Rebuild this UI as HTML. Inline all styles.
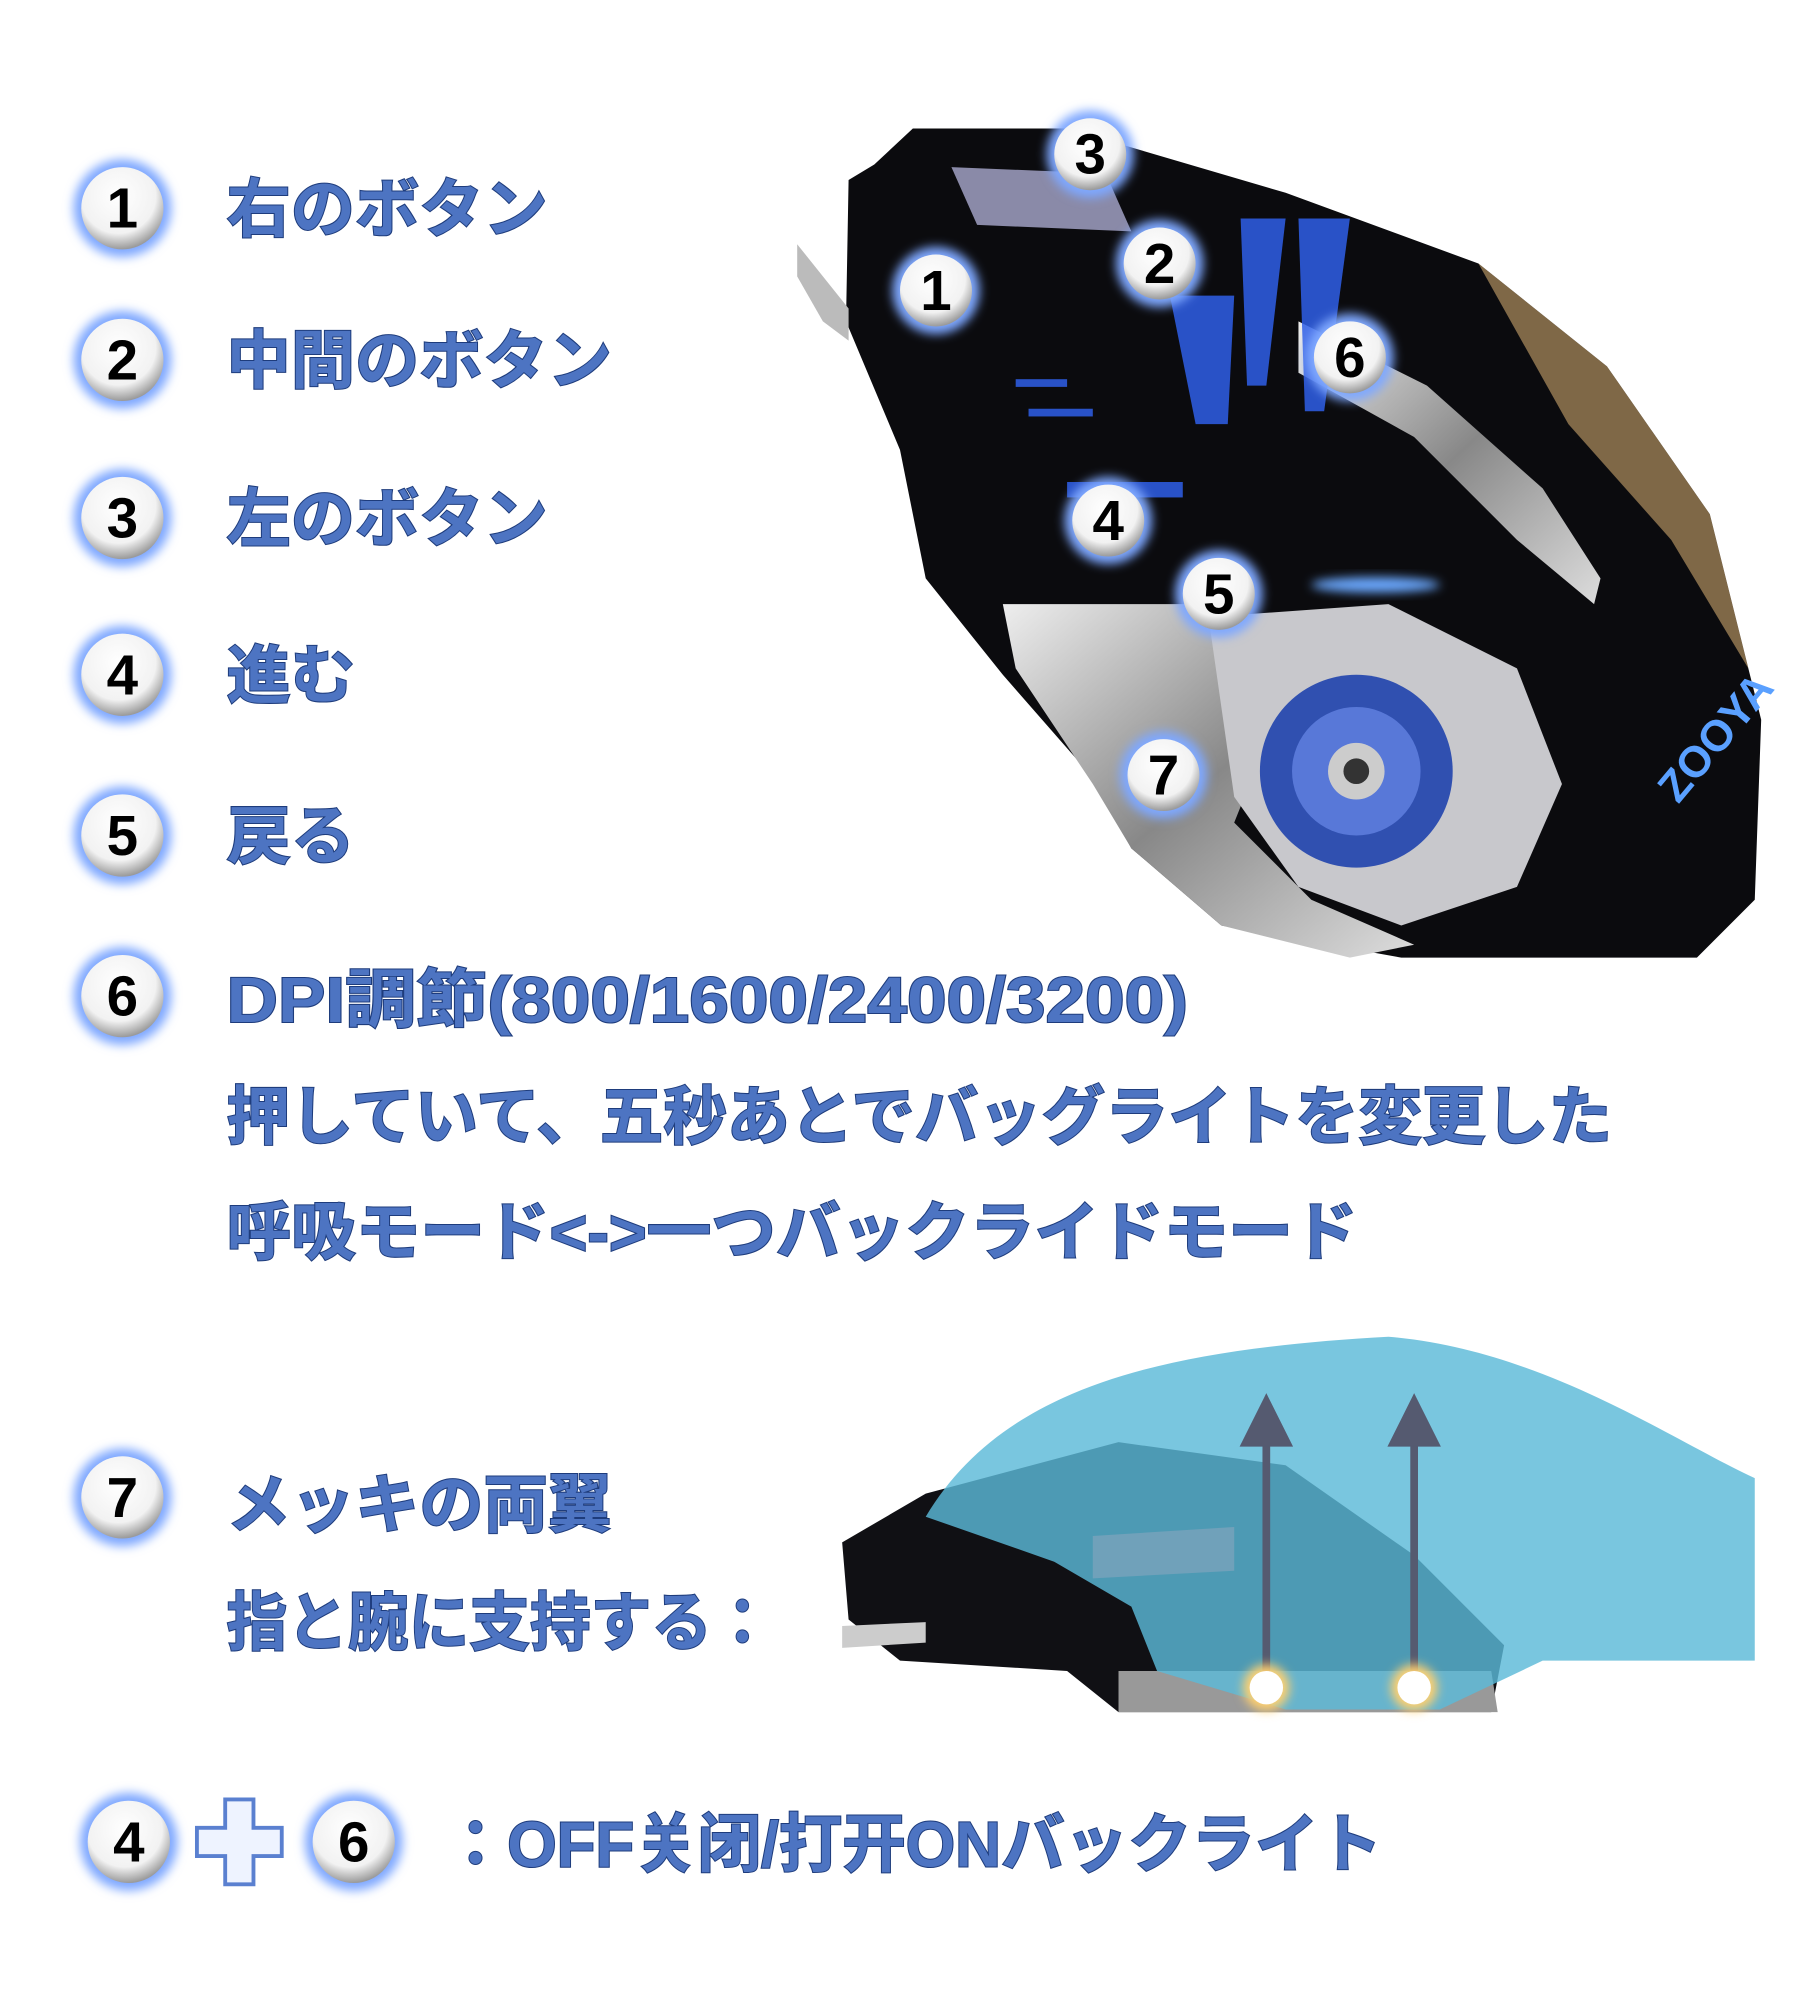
<!DOCTYPE html>
<html><head><meta charset="utf-8"><style>
html,body{margin:0;padding:0;background:#fff;}
svg{display:block;}
.t{font-family:"Liberation Sans","Noto Sans CJK JP",sans-serif;font-weight:bold;font-size:50px;fill:#4d74c2;stroke:#1e3c7c;stroke-width:1.6px;paint-order:stroke;}
.n{font-family:"Liberation Sans",sans-serif;font-weight:bold;font-size:44px;fill:#000;text-anchor:middle;dominant-baseline:central;}
</style></head><body>
<svg width="1818" height="2000" viewBox="0 0 1414 1556" xmlns="http://www.w3.org/2000/svg">
<defs>
<radialGradient id="ball" cx="45%" cy="35%" r="65%"><stop offset="0" stop-color="#fff"/><stop offset="0.7" stop-color="#f2f2f2"/><stop offset="1" stop-color="#9a9a9a"/></radialGradient>
<filter id="glow" x="-50%" y="-50%" width="200%" height="200%"><feGaussianBlur stdDeviation="4"/></filter>
<linearGradient id="chrome" x1="0" y1="0" x2="1" y2="1"><stop offset="0" stop-color="#eee"/><stop offset="0.5" stop-color="#888"/><stop offset="1" stop-color="#ddd"/></linearGradient>
</defs>
<!-- main mouse -->
<path d="M710,100 L830,100 L1000,150 L1150,205 L1250,285 L1330,400 L1370,560 L1365,700 L1320,745 L1090,745 L950,720 L880,660 L850,605 L780,525 L720,450 L700,350 L658,250 L660,140 L680,128 Z" fill="#0b0b0e"/>
<path d="M620,190 L660,240 L660,265 L640,250 L620,215 Z" fill="#bbb"/>
<path d="M740,130 L860,135 L880,180 L760,175 Z" fill="#8a8aa8"/>
<path d="M1150,205 L1250,285 L1330,400 L1360,520 L1300,420 L1220,330 Z" fill="#b09060" opacity="0.7"/>
<path d="M1010,250 L1110,300 L1200,380 L1245,450 L1240,470 L1180,420 L1100,340 L1010,290 Z" fill="url(#chrome)"/>
<path d="M780,470 L950,470 L1000,500 L1000,540 L960,640 L1020,700 L1100,735 L1050,745 L950,720 L880,660 L850,610 L790,520 Z" fill="url(#chrome)"/>
<path d="M940,480 L1080,470 L1180,520 L1215,610 L1180,690 L1090,720 L1010,690 L960,620 Z" fill="#c8c8cc"/>
<circle cx="1055" cy="600" r="75" fill="#3050b0"/>
<circle cx="1055" cy="600" r="50" fill="#5878d8"/>
<circle cx="1055" cy="600" r="22" fill="#ccc"/>
<circle cx="1055" cy="600" r="10" fill="#333"/>
<g fill="#2f5fe8" opacity="0.85">
<path d="M910,230 L960,230 L955,330 L930,330 Z"/><path d="M965,170 L1000,170 L985,300 L970,300 Z"/><path d="M1010,170 L1050,170 L1030,320 L1015,320 Z"/>
<rect x="790" y="295" width="40" height="6"/><rect x="800" y="318" width="50" height="6"/>
<rect x="830" y="375" width="90" height="12"/>
</g>
<text x="1270" y="610" font-family="Liberation Sans" font-weight="bold" font-size="34" fill="#5aa0ff" transform="rotate(-50 1305 580)">ZOOYA</text>
<ellipse cx="1070" cy="455" rx="50" ry="6" fill="#6aa8ff" filter="url(#glow)"/>
<!-- bottom mouse -->
<path d="M655,1200 L720,1162 L870,1122 L1000,1140 L1100,1210 L1170,1280 L1160,1332 L870,1332 L830,1300 L700,1292 L660,1260 Z" fill="#101014"/>
<path d="M850,1195 L960,1188 L960,1222 L850,1228 Z" fill="#c33"/>
<path d="M655,1265 L720,1262 L720,1278 L655,1282 Z" fill="#ccc"/>
<path d="M870,1300 L1160,1300 L1165,1332 L870,1332 Z" fill="#999"/>
<path d="M720,1180 C780,1080 900,1050 1080,1040 C1200,1050 1300,1120 1365,1150 L1365,1292 L1200,1292 L1120,1330 L1000,1330 L900,1300 L880,1250 L820,1215 Z" fill="#5bb9d8" opacity="0.82"/>
<g fill="#555a70" stroke="#555a70">
<line x1="985" y1="1310" x2="985" y2="1120" stroke-width="6"/><path d="M965,1125 L985,1085 L1005,1125 Z"/>
<line x1="1100" y1="1310" x2="1100" y2="1120" stroke-width="6"/><path d="M1080,1125 L1100,1085 L1120,1125 Z"/>
</g>
<circle cx="985" cy="1313" r="18" fill="#ffd070" filter="url(#glow)"/><circle cx="985" cy="1313" r="13" fill="#fff"/>
<circle cx="1100" cy="1313" r="18" fill="#ffd070" filter="url(#glow)"/><circle cx="1100" cy="1313" r="13" fill="#fff"/>
<!-- number balls -->
<g id="balls">
<g transform="translate(95,162)"><circle r="38" fill="#7fa8ff" filter="url(#glow)"/><circle r="32" fill="url(#ball)"/><text class="n">1</text></g>
<g transform="translate(95,280)"><circle r="38" fill="#7fa8ff" filter="url(#glow)"/><circle r="32" fill="url(#ball)"/><text class="n">2</text></g>
<g transform="translate(95,403)"><circle r="38" fill="#7fa8ff" filter="url(#glow)"/><circle r="32" fill="url(#ball)"/><text class="n">3</text></g>
<g transform="translate(95,525)"><circle r="38" fill="#7fa8ff" filter="url(#glow)"/><circle r="32" fill="url(#ball)"/><text class="n">4</text></g>
<g transform="translate(95,650)"><circle r="38" fill="#7fa8ff" filter="url(#glow)"/><circle r="32" fill="url(#ball)"/><text class="n">5</text></g>
<g transform="translate(95,775)"><circle r="38" fill="#7fa8ff" filter="url(#glow)"/><circle r="32" fill="url(#ball)"/><text class="n">6</text></g>
<g transform="translate(95,1165)"><circle r="38" fill="#7fa8ff" filter="url(#glow)"/><circle r="32" fill="url(#ball)"/><text class="n">7</text></g>
<g transform="translate(100,1433)"><circle r="38" fill="#7fa8ff" filter="url(#glow)"/><circle r="32" fill="url(#ball)"/><text class="n">4</text></g>
<g transform="translate(275,1433)"><circle r="38" fill="#7fa8ff" filter="url(#glow)"/><circle r="32" fill="url(#ball)"/><text class="n">6</text></g>
<g transform="translate(848,120)"><circle r="34" fill="#7fa8ff" filter="url(#glow)"/><circle r="28" fill="url(#ball)"/><text class="n">3</text></g>
<g transform="translate(728,226)"><circle r="34" fill="#7fa8ff" filter="url(#glow)"/><circle r="28" fill="url(#ball)"/><text class="n">1</text></g>
<g transform="translate(902,205)"><circle r="34" fill="#7fa8ff" filter="url(#glow)"/><circle r="28" fill="url(#ball)"/><text class="n">2</text></g>
<g transform="translate(1050,278)"><circle r="34" fill="#7fa8ff" filter="url(#glow)"/><circle r="28" fill="url(#ball)"/><text class="n">6</text></g>
<g transform="translate(862,405)"><circle r="34" fill="#7fa8ff" filter="url(#glow)"/><circle r="28" fill="url(#ball)"/><text class="n">4</text></g>
<g transform="translate(948,462)"><circle r="34" fill="#7fa8ff" filter="url(#glow)"/><circle r="28" fill="url(#ball)"/><text class="n">5</text></g>
<g transform="translate(905,603)"><circle r="34" fill="#7fa8ff" filter="url(#glow)"/><circle r="28" fill="url(#ball)"/><text class="n">7</text></g>
</g>
<!-- plus -->
<path d="M175,1400 L197,1400 L197,1422 L219,1422 L219,1444 L197,1444 L197,1466 L175,1466 L175,1444 L153,1444 L153,1422 L175,1422 Z" fill="#eef3ff" stroke="#5a80d0" stroke-width="3"/>
<!-- texts -->
<text class="t" x="176" y="180">右のボタン</text>
<text class="t" x="176" y="298">中間のボタン</text>
<text class="t" x="176" y="421">左のボタン</text>
<text class="t" x="176" y="543">進む</text>
<text class="t" x="176" y="668">戻る</text>
<text class="t" x="176" y="795" textLength="748" lengthAdjust="spacingAndGlyphs">DPI調節(800/1600/2400/3200)</text>
<text class="t" x="176" y="886" textLength="1078" lengthAdjust="spacingAndGlyphs">押していて、五秒あとでバッグライトを変更した</text>
<text class="t" x="176" y="976" textLength="880" lengthAdjust="spacingAndGlyphs">呼吸モード&lt;-&gt;一つバックライドモード</text>
<text class="t" x="176" y="1188">メッキの両翼</text>
<text class="t" x="176" y="1280" textLength="425" lengthAdjust="spacingAndGlyphs">指と腕に支持する：</text>
<text class="t" x="345" y="1452" textLength="730" lengthAdjust="spacingAndGlyphs">：OFF关闭/打开ONバックライト</text>
</svg>
</body></html>
